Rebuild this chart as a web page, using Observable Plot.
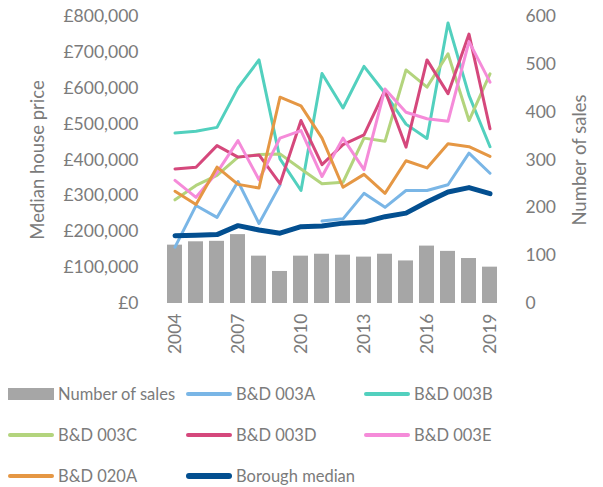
<!DOCTYPE html>
<html>
<head>
<meta charset="utf-8">
<script src="https://cdn.jsdelivr.net/npm/d3@7"></script>
<script src="https://cdn.jsdelivr.net/npm/@observablehq/plot@0.6"></script>
<style>
  body { margin: 0; background: #fff; font-family: Lato, "Open Sans", sans-serif; font-weight: 400; color: #7b7b7b; }
  #legend { display: grid; grid-template-columns: 178px 178px 178px; grid-auto-rows: 41px; padding-left: 8px; margin-top: 8px; }
  .item { display: flex; align-items: center; font-size: 16.5px; }
  .sw { display: inline-block; width: 46px; margin-right: 4px; border-radius: 3px; }
</style>
</head>
<body>
<div id="chart"></div>
<div id="legend"></div>
<script>
const years = [2004, 2005, 2006, 2007, 2008, 2009, 2010, 2011, 2012, 2013, 2014, 2015, 2016, 2017, 2018, 2019];
const tickYears = [2004, 2007, 2010, 2013, 2016, 2019];
const sales = [122, 129, 130, 144, 99, 67, 99, 103, 101, 97, 103, 89, 120, 109, 94, 76];
const bd003A = [157000, 273000, 240000, 340000, 223000, 330000, null, 230000, 236000, 307000, 268000, 315000, 315000, 331000, 419000, 363000];
const bd003B = [475000, 480000, 491000, 601000, 679000, 403000, 315000, 641000, 545000, 661000, 586000, 500000, 460000, 782000, 580000, 437000];
const bd003C = [289000, 329000, 357000, 408000, 415000, 417000, 375000, 334000, 338000, 461000, 452000, 651000, 603000, 696000, 510000, 640000];
const bd003D = [375000, 380000, 440000, 408000, 414000, 334000, 510000, 387000, 443000, 470000, 594000, 436000, 679000, 585000, 751000, 487000];
const bd003E = [343000, 296000, 365000, 454000, 345000, 461000, 482000, 354000, 461000, 373000, 598000, 533000, 515000, 508000, 730000, 617000];
const bd020A = [313000, 276000, 380000, 332000, 322000, 575000, 551000, 461000, 324000, 360000, 307000, 398000, 378000, 445000, 437000, 410000];
const borough = [189000, 190000, 192000, 217000, 205000, 196000, 214000, 216000, 224000, 227000, 242000, 252000, 283000, 311000, 323000, 306000];
const priceTicks = [0, 100000, 200000, 300000, 400000, 500000, 600000, 700000, 800000];
const salesTicks = [0, 100, 200, 300, 400, 500, 600];
const seriesNames = ["B&D 003A", "B&D 003B", "B&D 003C", "B&D 003D", "B&D 003E", "B&D 020A", "Borough median"];
const seriesValues = [bd003A, bd003B, bd003C, bd003D, bd003E, bd020A, borough];
const seriesColors = ["#7ab6e6", "#52d0be", "#b3d47d", "#d5487c", "#f58bd9", "#e59744", "#034f90"];
const seriesWidths = [3, 3, 3, 3, 3, 3, 5];
const barColor = "#a6a6a6";

const ratio = 800000 / 600;
const barData = years.map((y, i) => ({year: y, sales: sales[i]}));
const lineData = [];
seriesNames.forEach((name, s) => {
  years.forEach((y, i) => lineData.push({series: name, year: y, value: seriesValues[s][i]}));
});

const lineMarks = seriesNames.map((name, s) =>
  Plot.line(lineData.filter(d => d.series === name), {
    x: "year", y: "value", stroke: seriesColors[s], strokeWidth: seriesWidths[s],
    strokeLinejoin: "round", strokeLinecap: "round"
  })
);

const chart = Plot.plot({
  width: 603,
  height: 365,
  marginLeft: 154,
  marginRight: 92,
  marginTop: 16,
  marginBottom: 62,
  style: {fontFamily: "Lato, 'Open Sans', sans-serif", fontSize: "17.5px", color: "#7b7b7b", fontWeight: 400, background: "#fff"},
  x: {type: "band", domain: years, padding: 0.27},
  y: {domain: [0, 800000]},
  marks: [
    Plot.barY(barData, {x: "year", y: d => d.sales * ratio, fill: barColor}),
    ...lineMarks,
    Plot.axisY(priceTicks, {anchor: "left", tickSize: 0, tickPadding: 16, fontSize: 17.5,
      tickFormat: d => "£" + d3.format(",")(d), label: null}),
    Plot.axisY(salesTicks.map(s => s * ratio), {anchor: "right", tickSize: 0, tickPadding: 14, fontSize: 17.5,
      tickFormat: d => String(Math.round(d / ratio)), label: null}),
    Plot.axisX(tickYears, {anchor: "bottom", tickSize: 0, tickPadding: 10, tickRotate: -90, fontSize: 17.5,
      tickFormat: d => String(d), label: null}),
    Plot.text(["Median house price"], {frameAnchor: "left", textAnchor: "middle", rotate: -90, dx: -116, fontSize: 18.5, fill: "#7b7b7b"}),
    Plot.text(["Number of sales"], {frameAnchor: "right", textAnchor: "middle", rotate: -90, dx: 69, fontSize: 18.5, fill: "#7b7b7b"})
  ]
});
document.getElementById("chart").appendChild(chart);

// Legend
const legend = document.getElementById("legend");
const legendItems = [{name: "Number of sales", color: barColor, h: 12, bar: true}]
  .concat(seriesNames.map((n, s) => ({name: n, color: seriesColors[s], h: seriesWidths[s] + 1})));
legendItems.forEach(it => {
  const div = document.createElement("div");
  div.className = "item";
  const sw = document.createElement("span");
  sw.className = "sw";
  sw.style.height = it.h + "px";
  sw.style.background = it.color;
  if (it.bar) sw.style.borderRadius = "0";
  const t = document.createElement("span");
  t.textContent = it.name;
  div.appendChild(sw);
  div.appendChild(t);
  legend.appendChild(div);
});
</script>
</body>
</html>
